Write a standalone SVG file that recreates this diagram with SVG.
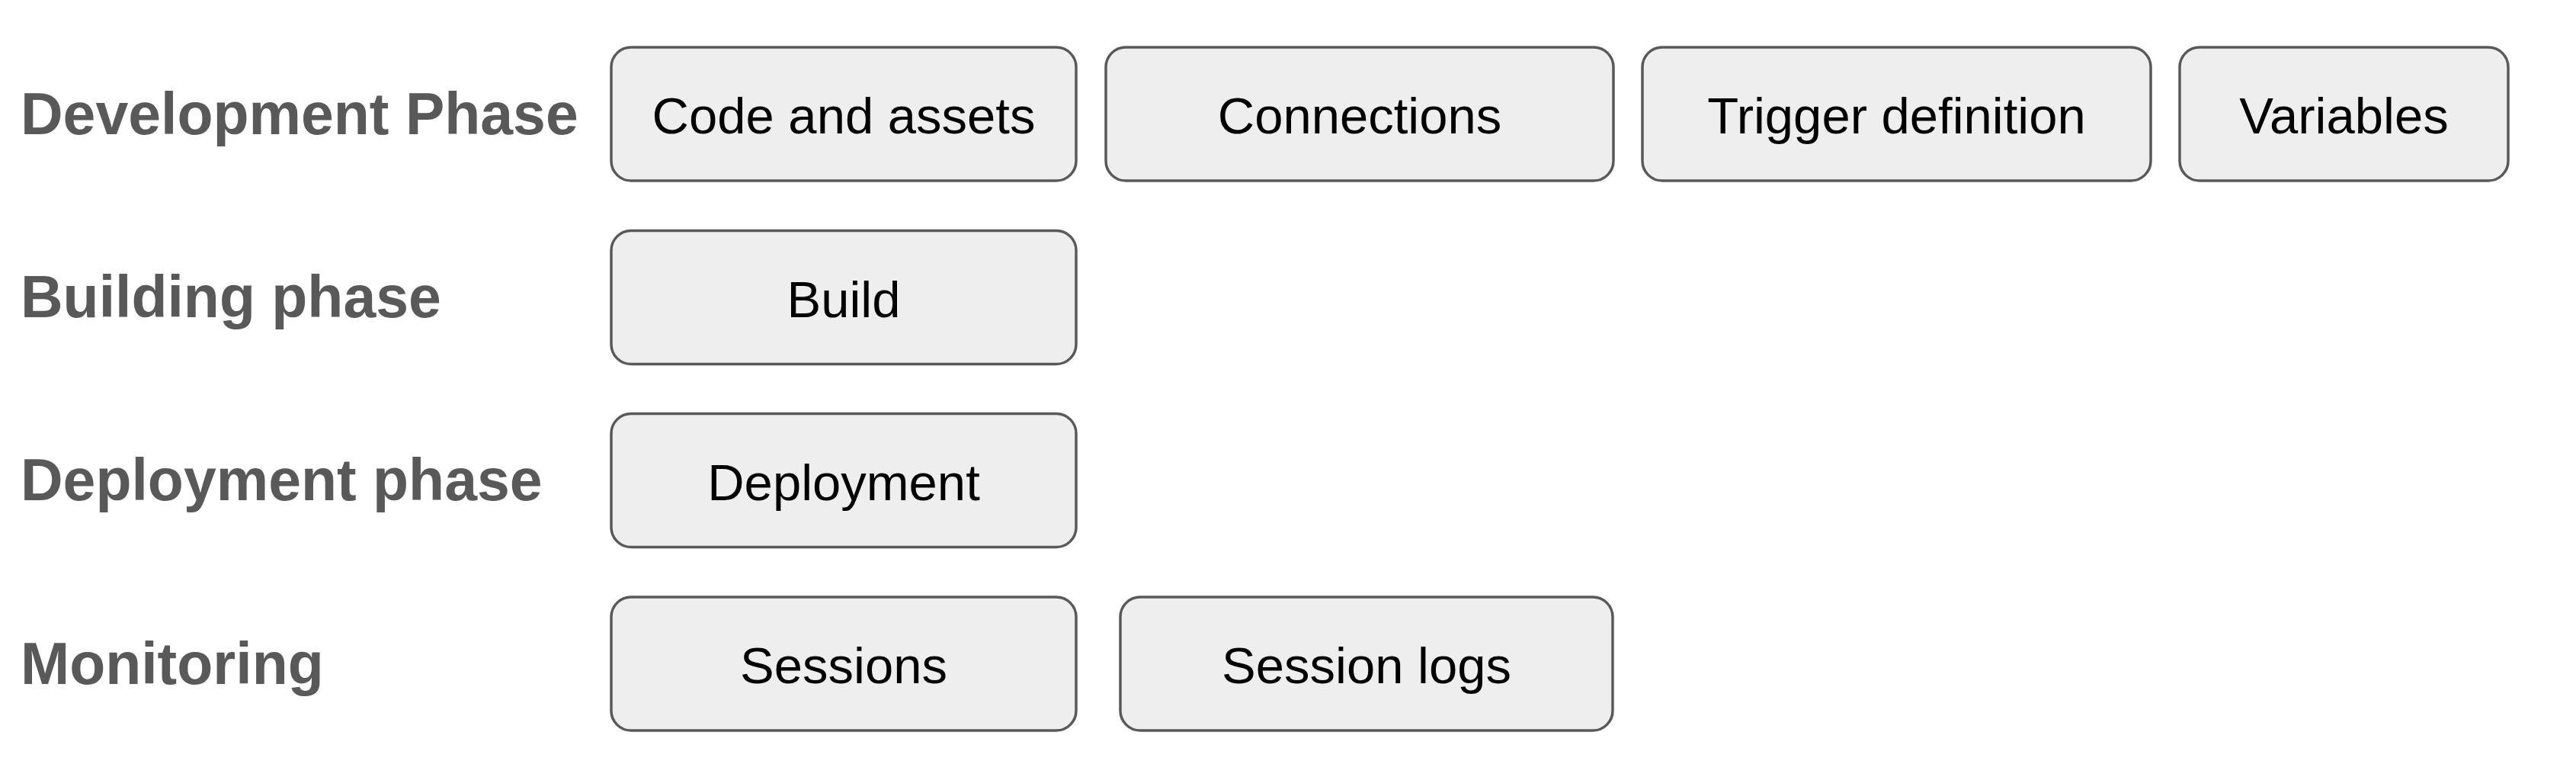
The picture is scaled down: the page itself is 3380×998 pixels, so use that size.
<svg xmlns="http://www.w3.org/2000/svg" width="3380" height="998" viewBox="0 0 3380 998">
<style>
.box{fill:#eeeeee;stroke:#595959;stroke-width:3.5}
.lbl{font-family:"Liberation Sans",Arial,sans-serif;font-weight:bold;font-size:77px;fill:#595959}
.txt{font-family:"Liberation Sans",Arial,sans-serif;font-size:67px;fill:#000000;text-anchor:middle}
</style>
<rect width="3380" height="998" fill="#ffffff"/>
<g id="labels">
<text class="lbl" x="27" y="176">Development Phase</text>
<text class="lbl" x="27" y="416">Building phase</text>
<text class="lbl" x="27" y="656">Deployment phase</text>
<text class="lbl" x="27" y="897">Monitoring</text>
</g>
<g id="node-code-assets"><rect class="box" x="802" y="62" width="610" height="175" rx="26"/><text class="txt" x="1107" y="175">Code and assets</text></g>
<g id="node-connections"><rect class="box" x="1451" y="62" width="666" height="175" rx="26"/><text class="txt" x="1784" y="175">Connections</text></g>
<g id="node-trigger"><rect class="box" x="2155" y="62" width="667" height="175" rx="26"/><text class="txt" x="2488.5" y="175">Trigger definition</text></g>
<g id="node-variables"><rect class="box" x="2860" y="62" width="431" height="175" rx="26"/><text class="txt" x="3075.5" y="175">Variables</text></g>
<g id="node-build"><rect class="box" x="802" y="302.5" width="610" height="175" rx="26"/><text class="txt" x="1107" y="415.5">Build</text></g>
<g id="node-deployment"><rect class="box" x="802" y="542.5" width="610" height="175" rx="26"/><text class="txt" x="1107" y="655.5">Deployment</text></g>
<g id="node-sessions"><rect class="box" x="802" y="783" width="610" height="175" rx="26"/><text class="txt" x="1107" y="896">Sessions</text></g>
<g id="node-session-logs"><rect class="box" x="1470" y="783" width="646" height="175" rx="26"/><text class="txt" x="1793" y="896">Session logs</text></g>
<g id="connectors"></g>
</svg>
